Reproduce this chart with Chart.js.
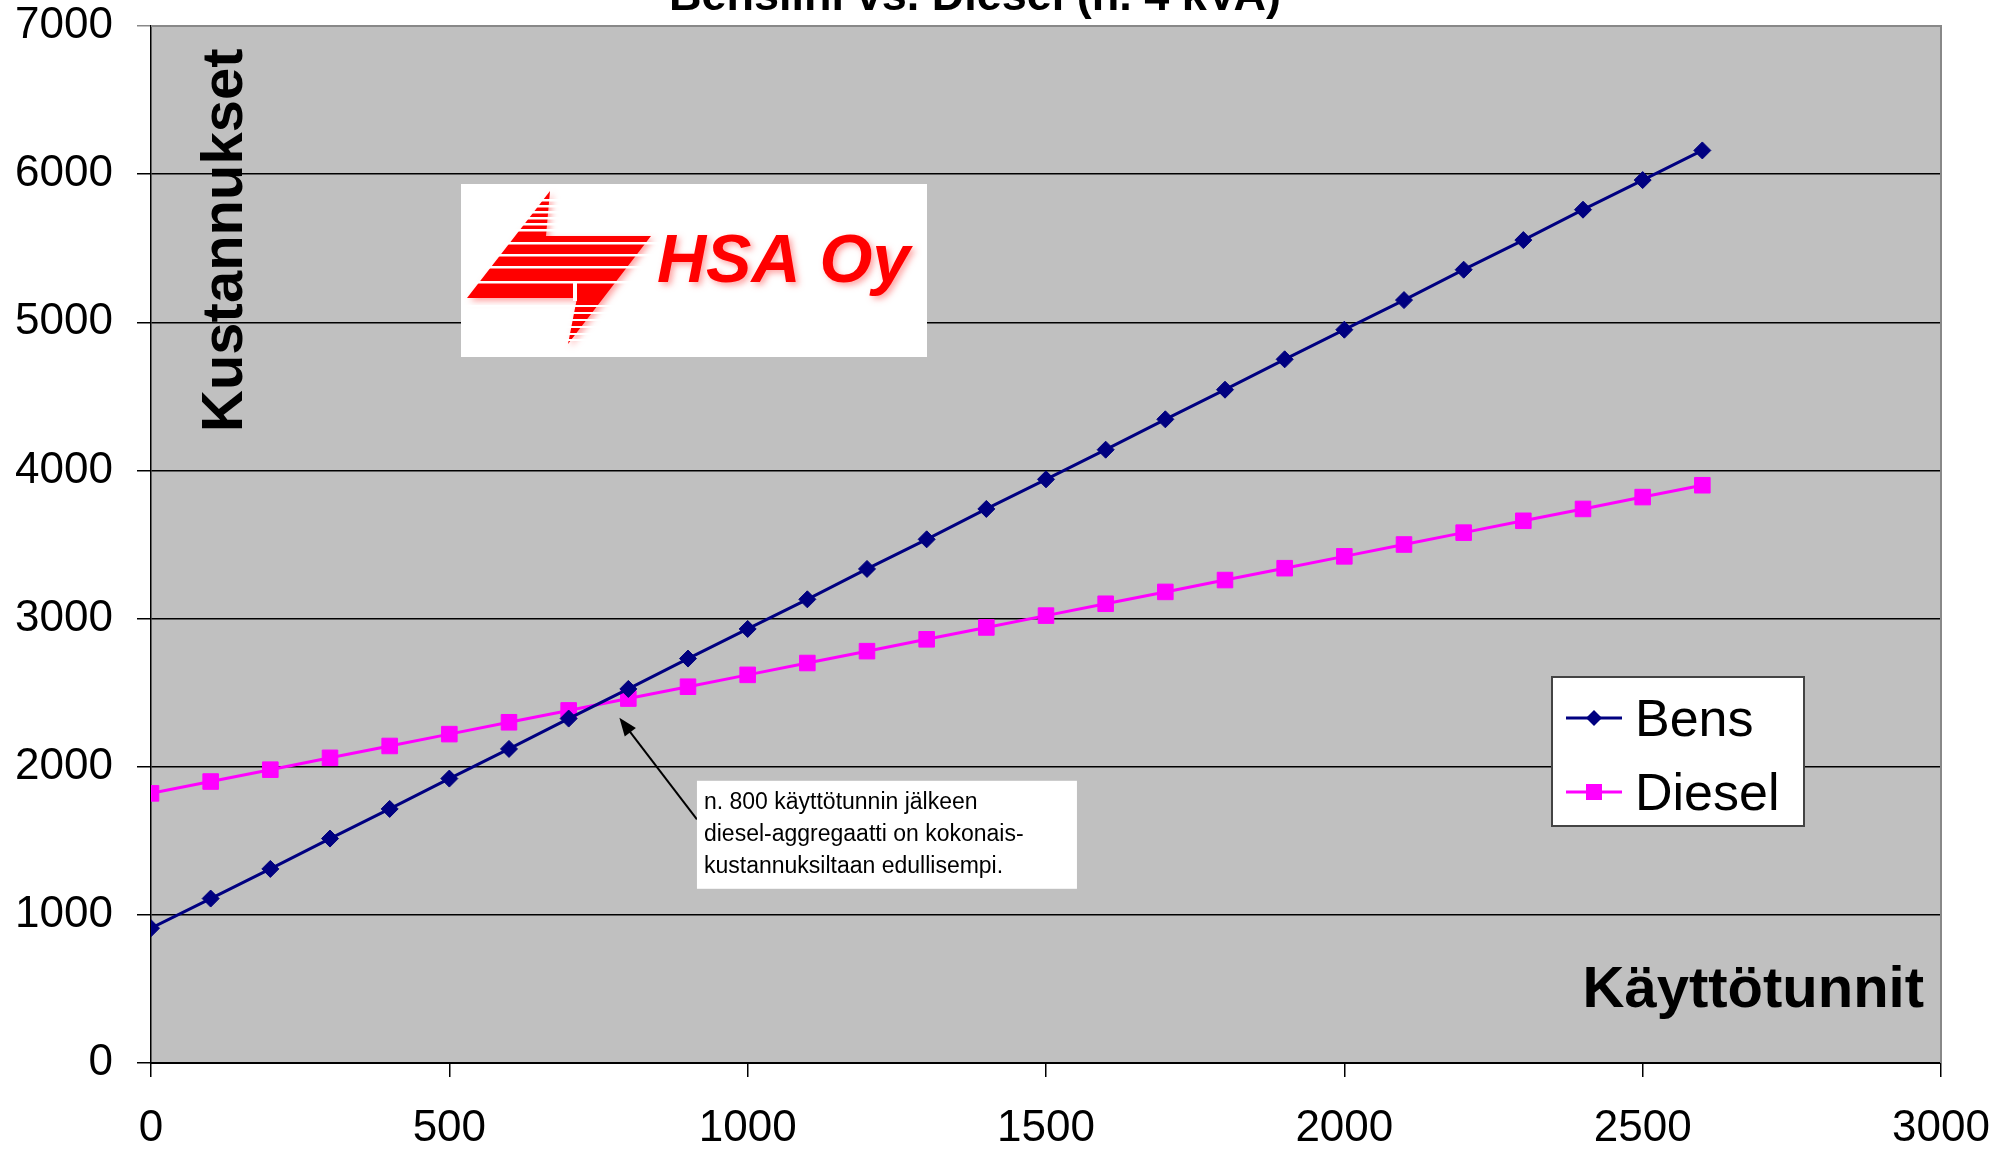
<!DOCTYPE html>
<html>
<head>
<meta charset="utf-8">
<title>Bensiini vs. Diesel</title>
<script src="https://cdn.jsdelivr.net/npm/chart.js@4.4.1/dist/chart.umd.min.js"></script>
<style>
  html, body { margin: 0; padding: 0; background: #fff; }
  #wrap { width: 2016px; height: 1149px; }
</style>
</head>
<body>
<div id="wrap"><canvas id="costChart" width="2016" height="1149"></canvas></div>
<script>
// käyttötunnit (x) and costs
const hours  = [0, 100, 200, 300, 400, 500, 600, 700, 800, 900, 1000, 1100, 1200, 1300,
                1400, 1500, 1600, 1700, 1800, 1900, 2000, 2100, 2200, 2300, 2400, 2500, 2600];
const bens   = [910, 1110, 1310, 1515, 1715, 1920, 2120, 2325, 2525, 2730, 2930, 3130, 3335, 3535,
                3740, 3940, 4140, 4345, 4545, 4750, 4950, 5150, 5355, 5555, 5760, 5960, 6160];
const diesel = [1820, 1900, 1980, 2060, 2140, 2220, 2300, 2380, 2460, 2540, 2620, 2700, 2780, 2860,
                2940, 3020, 3100, 3180, 3260, 3340, 3420, 3500, 3580, 3660, 3740, 3820, 3900];
const xTicks = [0, 500, 1000, 1500, 2000, 2500, 3000];
const yTicks = [0, 1000, 2000, 3000, 4000, 5000, 6000, 7000];

const seriesNames = ["Bens", "Diesel"];
const titleText = "Bensiini vs. Diesel (n. 4 kVA)";
const yTitle = "Kustannukset";
const xTitle = "Käyttötunnit";
const noteLines = ["n. 800 käyttötunnin jälkeen", "diesel-aggregaatti on kokonais-", "kustannuksiltaan edullisempi."];
const noteArrowHead = { x: 785, y: 2330 };
const noteArrowTail = { x: 915, y: 1645 };
const noteBoxAt = { x: 915, y: 1905 };

const FONT = "Arial, 'Liberation Sans', sans-serif";
const NAVY = "#000080";
const MAGENTA = "#ff00ff";

function drawLogo(ctx, x0, y0) {
  ctx.save();
  ctx.fillStyle = "#fff";
  ctx.fillRect(x0, y0, 466, 173);

  // striped bolt
  ctx.save();
  ctx.shadowColor = "rgba(255,90,90,0.55)";
  ctx.shadowBlur = 6;
  ctx.shadowOffsetX = 3;
  ctx.shadowOffsetY = 3;
  ctx.fillStyle = "#ff0000";
  ctx.beginPath();
  ctx.moveTo(x0 + 89, y0 + 7);
  ctx.lineTo(x0 + 85, y0 + 52);
  ctx.lineTo(x0 + 190, y0 + 52);
  ctx.lineTo(x0 + 107, y0 + 160);
  ctx.lineTo(x0 + 116, y0 + 114);
  ctx.lineTo(x0 + 6, y0 + 114);
  ctx.closePath();
  ctx.fill();
  ctx.restore();
  ctx.fillStyle = "#fff";
  [15, 21, 27, 33, 39, 45, 58, 70, 82, 97, 121, 128, 135, 142, 149, 155].forEach(g => {
    ctx.fillRect(x0 + 2, y0 + g, 200, g > 110 ? 2 : 2.5);
  });
  ctx.fillRect(x0 + 112, y0 + 97, 4, 20);

  ctx.shadowColor = "rgba(255,90,90,0.55)";
  ctx.shadowBlur = 6;
  ctx.shadowOffsetX = 3;
  ctx.shadowOffsetY = 3;
  ctx.fillStyle = "#ff0000";
  ctx.font = "italic bold 68px " + FONT;
  ctx.textBaseline = "alphabetic";
  ctx.textAlign = "left";
  ctx.fillText("HSA Oy", x0 + 196, y0 + 98);
  ctx.restore();
}

const decorPlugin = {
  id: "decor",
  beforeDraw(chart) {
    const { ctx, chartArea: a } = chart;
    ctx.save();
    ctx.fillStyle = "#c0c0c0";
    ctx.fillRect(a.left, a.top, a.right - a.left, a.bottom - a.top);
    ctx.restore();
  },
  afterDraw(chart) {
    const { ctx, chartArea: a, scales } = chart;
    const xs = scales.x, ys = scales.y;
    ctx.save();

    // gray top / right frame
    ctx.strokeStyle = "#888";
    ctx.lineWidth = 2;
    ctx.beginPath();
    ctx.moveTo(a.left, a.top);
    ctx.lineTo(a.right, a.top);
    ctx.lineTo(a.right, a.bottom);
    ctx.stroke();

    // title, top half cut by the page edge
    ctx.fillStyle = "#000";
    ctx.font = "bold 45px " + FONT;
    ctx.textAlign = "center";
    ctx.textBaseline = "alphabetic";
    ctx.fillText(titleText, 975, 10);

    // axis titles inside the plot
    ctx.font = "bold 58px " + FONT;
    ctx.textAlign = "left";
    ctx.save();
    ctx.translate(a.left + 91, a.top + 406);
    ctx.rotate(-Math.PI / 2);
    ctx.fillText(yTitle, 0, 0);
    ctx.restore();
    ctx.textAlign = "right";
    ctx.fillText(xTitle, a.right - 17, a.bottom - 56);

    // logo
    drawLogo(ctx, a.left + 310, a.top + 158);

    // note with arrow
    const hx = xs.getPixelForValue(noteArrowHead.x), hy = ys.getPixelForValue(noteArrowHead.y);
    const tx = xs.getPixelForValue(noteArrowTail.x), ty = ys.getPixelForValue(noteArrowTail.y);
    const ang = Math.atan2(hy - ty, hx - tx);
    ctx.strokeStyle = "#000";
    ctx.fillStyle = "#000";
    ctx.lineWidth = 2;
    ctx.beginPath();
    ctx.moveTo(tx, ty);
    ctx.lineTo(hx - Math.cos(ang) * 10, hy - Math.sin(ang) * 10);
    ctx.stroke();
    ctx.beginPath();
    ctx.moveTo(hx, hy);
    ctx.lineTo(hx - 18 * Math.cos(ang) + 7 * Math.sin(ang), hy - 18 * Math.sin(ang) - 7 * Math.cos(ang));
    ctx.lineTo(hx - 18 * Math.cos(ang) - 7 * Math.sin(ang), hy - 18 * Math.sin(ang) + 7 * Math.cos(ang));
    ctx.closePath();
    ctx.fill();

    const bx = xs.getPixelForValue(noteBoxAt.x), by = ys.getPixelForValue(noteBoxAt.y);
    ctx.fillStyle = "#fff";
    ctx.fillRect(bx, by, 380, 108);
    ctx.fillStyle = "#000";
    ctx.font = "23px " + FONT;
    ctx.textAlign = "left";
    noteLines.forEach((line, i) => ctx.fillText(line, bx + 7, by + 28 + i * 32));

    // legend box
    const lx = 1552, ly = 677;
    ctx.fillStyle = "#fff";
    ctx.fillRect(lx, ly, 252, 149);
    ctx.strokeStyle = "#444";
    ctx.lineWidth = 2;
    ctx.strokeRect(lx, ly, 252, 149);
    const rows = [
      { name: seriesNames[0], color: NAVY, style: "diamond", y: 718 },
      { name: seriesNames[1], color: MAGENTA, style: "square", y: 792 }
    ];
    rows.forEach(r => {
      ctx.strokeStyle = r.color;
      ctx.fillStyle = r.color;
      ctx.lineWidth = 3;
      ctx.beginPath();
      ctx.moveTo(lx + 14, r.y);
      ctx.lineTo(lx + 70, r.y);
      ctx.stroke();
      const mx = lx + 42;
      ctx.beginPath();
      if (r.style === "diamond") {
        ctx.moveTo(mx, r.y - 8); ctx.lineTo(mx + 8, r.y); ctx.lineTo(mx, r.y + 8); ctx.lineTo(mx - 8, r.y);
        ctx.closePath();
        ctx.fill();
      } else {
        ctx.fillRect(mx - 8, r.y - 8, 16, 16);
      }
      ctx.fillStyle = "#000";
      ctx.font = "52px " + FONT;
      ctx.textBaseline = "alphabetic";
      ctx.fillText(r.name, lx + 83, r.y + 18);
    });

    ctx.restore();
  }
};

const ctx = document.getElementById("costChart").getContext("2d");

new Chart(ctx, {
  type: "line",
  data: {
    datasets: [{
      label: seriesNames[0],
      data: hours.map((h, i) => ({ x: h, y: bens[i] })),
      borderColor: NAVY,
      backgroundColor: NAVY,
      borderWidth: 3,
      pointStyle: "rectRot",
      pointRadius: 8.5,
      pointBorderWidth: 1,
      pointBackgroundColor: NAVY,
      pointBorderColor: NAVY,
      tension: 0
    }, {
      label: seriesNames[1],
      data: hours.map((h, i) => ({ x: h, y: diesel[i] })),
      borderColor: MAGENTA,
      backgroundColor: MAGENTA,
      borderWidth: 3,
      pointStyle: "rect",
      pointRadius: 11,
      pointBorderWidth: 1,
      pointBackgroundColor: MAGENTA,
      pointBorderColor: MAGENTA,
      tension: 0
    }]
  },
  options: {
    responsive: false,
    animation: false,
    devicePixelRatio: 1,
    layout: { padding: { left: 15, top: 26, right: 75, bottom: 0 } },
    plugins: {
      legend: { display: false },
      tooltip: { enabled: false },
      title: { display: false }
    },
    scales: {
      x: {
        type: "linear",
        min: 0,
        max: 3000,
        afterBuildTicks: s => { s.ticks = xTicks.map(v => ({ value: v })); },
        afterFit: s => { s.height = 86; s.paddingLeft = 0; s.paddingRight = 0; },
        ticks: {
          color: "#000",
          padding: 30,
          maxRotation: 0,
          callback: v => String(v),
          font: { family: FONT, size: 44, lineHeight: 1 }
        },
        grid: { drawOnChartArea: false, drawTicks: true, tickLength: 14, color: "#000", lineWidth: 1.5 },
        border: { color: "#000", width: 2 }
      },
      y: {
        min: 0,
        max: 7000,
        afterBuildTicks: s => { s.ticks = yTicks.map(v => ({ value: v })); },
        afterFit: s => { s.width = 136; s.paddingTop = 0; s.paddingBottom = 0; },
        ticks: {
          color: "#000",
          padding: 24,
          callback: v => String(v),
          font: { family: FONT, size: 44 }
        },
        grid: {
          color: c => (c.tick && c.tick.value === 7000 ? "#888" : "#000"),
          lineWidth: 1.5,
          tickLength: 14
        },
        border: { color: "#000", width: 1.5 }
      }
    }
  },
  plugins: [decorPlugin]
});
</script>
</body>
</html>
